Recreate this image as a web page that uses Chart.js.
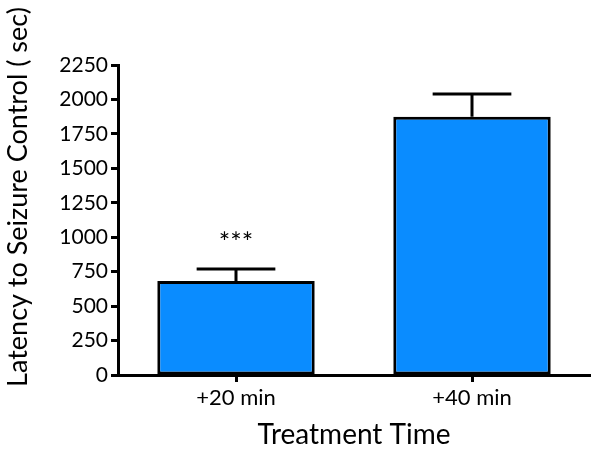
<!DOCTYPE html>
<html>
<head>
<meta charset="utf-8">
<script src="https://cdn.jsdelivr.net/npm/chart.js@4/dist/chart.umd.min.js"></script>
<style>
  html, body { margin: 0; padding: 0; background: #fff; }
  #wrap { width: 601px; height: 460px; }
</style>
</head>
<body>
<div id="wrap"><canvas id="c" width="601" height="460"></canvas></div>
<script>
const categories = ['+20 min', '+40 min'];
const means = [682, 1875];
const errorUpper = [770, 2040];
const significance = ['***', ''];
const yTicks = [0, 250, 500, 750, 1000, 1250, 1500, 1750, 2000, 2250];
const xTitle = 'Treatment Time';
const yTitle = 'Latency to Seizure Control ( sec)';

const FONT = 'Lato, "Open Sans", "DejaVu Sans", sans-serif';

const errorBarPlugin = {
  id: 'errorBars',
  afterDatasetsDraw(chart) {
    const ctx = chart.ctx;
    const meta = chart.getDatasetMeta(0);
    const y = chart.scales.y;
    ctx.save();
    ctx.strokeStyle = '#000';
    ctx.lineWidth = 3;
    ctx.lineCap = 'butt';
    meta.data.forEach((bar, i) => {
      const x = bar.x;
      const top = y.getPixelForValue(errorUpper[i]);
      const base = y.getPixelForValue(means[i]);
      const half = bar.width / 4;
      ctx.beginPath();
      ctx.moveTo(x, base);
      ctx.lineTo(x, top);
      ctx.moveTo(x - half, top);
      ctx.lineTo(x + half, top);
      ctx.stroke();
      if (significance[i]) {
        ctx.fillStyle = '#000';
        ctx.font = '27px ' + FONT;
        ctx.textAlign = 'center';
        ctx.textBaseline = 'middle';
        ctx.fillText(significance[i], x, top - 26);
      }
    });
    // y-axis title
    ctx.save();
    ctx.translate(18, 197);
    ctx.rotate(-Math.PI / 2);
    ctx.fillStyle = '#000';
    ctx.font = '27px ' + FONT;
    ctx.textAlign = 'center';
    ctx.textBaseline = 'middle';
    ctx.fillText(yTitle, 0, 0);
    ctx.restore();
    ctx.restore();
  }
};

new Chart(document.getElementById('c'), {
  type: 'bar',
  data: {
    labels: categories,
    datasets: [{
      data: means,
      backgroundColor: '#0a8cff',
      borderColor: '#000',
      borderWidth: 3,
      borderSkipped: false,
      barPercentage: 0.667,
      categoryPercentage: 1.0
    }]
  },
  options: {
    responsive: false,
    animation: false,
    devicePixelRatio: 1,
    layout: { padding: { top: 65, right: 11, bottom: 0, left: 0 } },
    plugins: { legend: { display: false }, tooltip: { enabled: false } },
    scales: {
      x: {
        offset: true,
        grid: { display: true, drawOnChartArea: false, offset: false, drawTicks: true, tickLength: 7, tickWidth: 3, tickColor: '#000' },
        border: { display: true, color: '#000', width: 3 },
        ticks: { color: '#000', font: { family: FONT, size: 22 }, padding: 3 },
        title: { display: true, text: xTitle, color: '#000', font: { family: FONT, size: 28 }, padding: { top: 2, bottom: 8 } },
        afterFit(s) { s.height = 85; }
      },
      y: {
        min: 0,
        max: 2250,
        afterBuildTicks(s) { s.ticks = yTicks.map(v => ({ value: v })); },
        grid: { display: true, drawOnChartArea: false, drawTicks: true, tickLength: 7, tickWidth: 3, tickColor: '#000' },
        border: { display: true, color: '#000', width: 3 },
        ticks: { color: '#000', font: { family: FONT, size: 21 }, padding: 3, callback: v => String(v) },
        afterFit(s) { s.width = 118; }
      }
    }
  },
  plugins: [errorBarPlugin]
});
</script>
</body>
</html>
